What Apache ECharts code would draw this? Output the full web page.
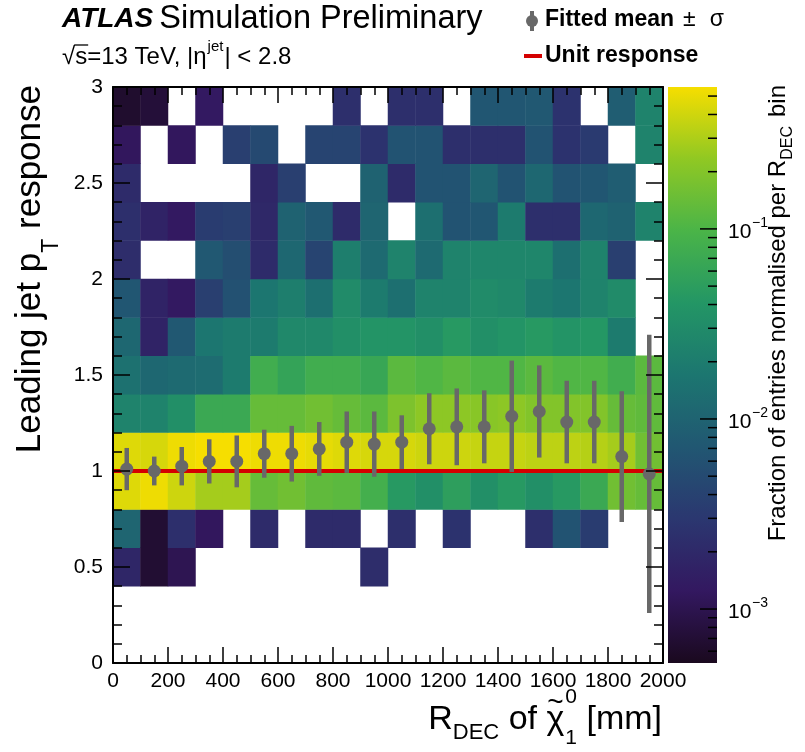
<!DOCTYPE html>
<html>
<head>
<meta charset="utf-8">
<script src="https://cdn.jsdelivr.net/npm/echarts@6.0.0/dist/echarts.min.js"></script>
<style>
html,body{margin:0;padding:0;background:#ffffff;}
#chart{width:805px;height:752px;}
</style>
</head>
<body>
<div id="chart"></div>
<script>
// ---------------- data ----------------
const xBins = ['0-100','100-200','200-300','300-400','400-500','500-600','600-700','700-800','800-900','900-1000',
  '1000-1100','1100-1200','1200-1300','1300-1400','1400-1500','1500-1600','1600-1700','1700-1800','1800-1900','1900-2000'];
const yBins = ['0.0-0.2','0.2-0.4','0.4-0.6','0.6-0.8','0.8-1.0','1.0-1.2','1.2-1.4','1.4-1.6',
  '1.6-1.8','1.8-2.0','2.0-2.2','2.2-2.4','2.4-2.6','2.6-2.8','2.8-3.0'];
const xCenters = [50,150,250,350,450,550,650,750,850,950,1050,1150,1250,1350,1450,1550,1650,1750,1850,1950];

// fraction of entries per R_DEC column, one array per response bin
const r00_02 = [null,null,null,null,null,null,null,null,null,null,null,null,null,null,null,null,null,null,null,null];
const r02_04 = [null,null,null,null,null,null,null,null,null,null,null,null,null,null,null,null,null,null,null,null];
const r04_06 = [0.00183,0.00069,0.00104,null,null,null,null,null,null,0.00225,null,null,null,null,null,null,null,null,null,null];
const r06_08 = [0.0105,0.00069,0.0024,0.0012,null,0.0021,null,0.0021,0.0021,null,0.0024,null,0.0026,null,null,0.0024,0.0064,0.0034,null,null];
const r08_10 = [0.454,0.52,0.394,0.278,0.278,0.138,0.159,0.129,0.12,0.085,0.045,0.034,0.052,0.034,0.045,0.034,0.045,0.069,0.159,0.138];
const r10_12 = [0.454,0.423,0.52,0.558,0.558,0.52,0.52,0.486,0.454,0.423,0.423,0.394,0.394,0.368,0.368,0.343,0.343,0.32,0.278,0.159];
const r12_14 = [0.024,0.024,0.034,0.069,0.069,0.138,0.138,0.159,0.138,0.12,0.183,0.225,0.225,0.21,0.225,0.196,0.196,0.196,0.138,0.129];
const r14_16 = [0.0148,0.0112,0.012,0.0129,0.0196,0.079,0.06,0.079,0.079,0.065,0.12,0.105,0.12,0.105,0.105,0.12,0.105,0.105,0.079,0.12];
const r16_18 = [0.0112,0.0017,0.0074,0.017,0.0196,0.0196,0.028,0.028,0.034,0.039,0.039,0.034,0.045,0.034,0.039,0.045,0.039,0.042,0.0196,null];
const r18_20 = [0.0069,0.0017,0.00129,0.0037,0.006,0.017,0.021,0.0138,0.03,0.0196,0.0138,0.024,0.024,0.03,0.028,0.0196,0.017,0.024,0.03,null];
const r20_22 = [0.00225,null,null,0.0074,0.0056,0.0021,0.0112,0.0042,0.021,0.012,0.024,0.012,0.024,0.026,0.026,0.026,0.0138,0.024,0.0037,null];
const r22_24 = [0.0024,0.0017,0.00129,0.0034,0.0037,0.00196,0.0097,0.0074,0.0021,0.0105,null,0.0138,0.0064,0.0069,0.0196,0.0024,0.0024,0.0112,0.0097,0.024];
const r24_26 = [0.0021,null,null,null,null,0.00183,0.0037,null,null,0.0097,0.0021,0.0064,0.0064,0.0105,0.0064,0.0112,0.0064,0.0069,0.0085,null];
const r26_28 = [0.0012,null,0.0012,null,0.0037,0.0049,null,0.0042,0.0042,0.0026,0.0064,0.0064,0.0024,0.0024,0.0024,0.0064,0.0026,0.0032,null,0.024];
const r28_30 = [0.00064,0.00074,null,0.00129,null,null,null,null,0.0024,null,0.0024,0.0024,null,0.0069,0.0069,0.0074,0.0026,null,0.0085,0.024];
const fractionRows = [r00_02,r02_04,r04_06,r06_08,r08_10,r10_12,r12_14,r14_16,r16_18,r18_20,r20_22,r22_24,r24_26,r26_28,r28_30];

// fitted mean and sigma per R_DEC bin
const fittedMean  = [1.01,1.0,1.025,1.05,1.05,1.09,1.09,1.115,1.15,1.14,1.15,1.22,1.23,1.23,1.285,1.31,1.255,1.255,1.075,0.985];
const fittedSigma = [0.11,0.075,0.10,0.115,0.135,0.125,0.145,0.14,0.16,0.17,0.14,0.185,0.20,0.19,0.29,0.24,0.215,0.215,0.34,0.725];

// unit response line
const unitX = [0, 2000];
const unitY = 1;

// colour scale (log)
const cbMin = 5.2e-4, cbMax = 0.558;
const cbMajorTicks = [1e-3, 1e-2, 1e-1];
const cbMajorExp = ['\u22123', '\u22122', '\u22121'];
const cbMinorTicks = [6e-4,7e-4,8e-4,9e-4,2e-3,3e-3,4e-3,5e-3,6e-3,7e-3,8e-3,9e-3,
  2e-2,3e-2,4e-2,5e-2,6e-2,7e-2,8e-2,9e-2,2e-1,3e-1,4e-1,5e-1];

// ---------------- style ----------------
const viridis = ['#1a091e','#331860','#2b3770','#215772','#1c7670','#239665','#4ab448','#90c823','#f6de00'];
const FONT = '"Liberation Sans", Arial, Helvetica, sans-serif';
const GREY = '#686868';
const RED = '#d40000';

const heatData = [];
fractionRows.forEach((row, j) => row.forEach((v, i) => { if (v != null) heatData.push([i, j, Math.log10(v)]); }));
const errData = xCenters.map((x, i) => [x, fittedMean[i], fittedSigma[i]]);
const cbTickData = cbMajorTicks.map((v, k) => [0, v, 1, k]).concat(cbMinorTicks.map(v => [0, v, 0, -1]));

// text layout helper
const mctx = document.createElement('canvas').getContext('2d');
function fontStr(s) { return (s.italic ? 'italic ' : '') + (s.bold ? 'bold ' : '') + s.size + 'px ' + FONT; }
function run(segs) {
  let x = 0; const ch = []; let prev = null;
  segs.forEach(s => {
    const f = fontStr(s); mctx.font = f; const w = mctx.measureText(s.t).width;
    let px = x + (s.dx || 0);
    if (s.over && prev) px = prev.x + (prev.w - w) / 2 + (s.dx || 0);
    ch.push({type: 'text', x: px, y: s.dy || 0, style: {text: s.t, font: f, fill: s.color || '#000',
      align: 'left', verticalAlign: 'middle', textAlign: 'left', textVerticalAlign: 'middle'}});
    if (s.overline) {
      const oy = (s.dy || 0) - 0.5 * s.size;
      ch.push({type: 'line', shape: {x1: px - 1, y1: oy, x2: px + w + 1, y2: oy}, style: {stroke: '#000', lineWidth: 1.3}});
    }
    if (!s.stay && !s.over) { prev = {x: px, w: w}; x = px + w; }
  });
  return {children: ch, width: x};
}

const gfx = [];
// header
const h1 = run([{t: 'ATLAS', size: 28, bold: true, italic: true}, {t: 'Simulation Preliminary', size: 32.5, dx: 6}]);
gfx.push({type: 'group', x: 62, y: 19, children: h1.children});
const h2 = run([{t: '\u221A', size: 24}, {t: 's', size: 24, overline: true}, {t: '=13 TeV, |\u03B7', size: 24},
  {t: 'jet', size: 15, dy: -10, dx: 1}, {t: '| < 2.8', size: 24, dx: 1}]);
gfx.push({type: 'group', x: 62, y: 57, children: h2.children});
// legend
gfx.push({type: 'line', shape: {x1: 532, y1: 11, x2: 532, y2: 31}, style: {stroke: GREY, lineWidth: 4}});
gfx.push({type: 'circle', shape: {cx: 532, cy: 21, r: 6}, style: {fill: GREY}});
const l1 = run([{t: 'Fitted mean', size: 23, bold: true}, {t: '\u00B1', size: 23, dx: 9}, {t: '\u03C3', size: 23, dx: 14}]);
gfx.push({type: 'group', x: 545, y: 20, children: l1.children});
gfx.push({type: 'rect', shape: {x: 524, y: 54, width: 18, height: 4}, style: {fill: RED}});
const l2 = run([{t: 'Unit response', size: 23, bold: true}]);
gfx.push({type: 'group', x: 545, y: 56, children: l2.children});
// y title
const yt = run([{t: 'Leading jet p', size: 35}, {t: 'T', size: 23, dy: 22}, {t: ' response', size: 35}]);
gfx.push({type: 'group', x: 30, y: 85 + yt.width, rotation: Math.PI / 2, children: yt.children});
// x title
const xt = run([{t: 'R', size: 34}, {t: 'DEC', size: 22, dy: 13}, {t: ' of ', size: 34}, {t: '\u03C7', size: 34},
  {t: '~', size: 28, dy: -17, over: true}, {t: '0', size: 21, dy: -23, stay: true, dx: 1}, {t: '1', size: 21, dy: 18, dx: 1}, {t: ' [mm]', size: 34}]);
gfx.push({type: 'group', x: 662 - xt.width, y: 720, children: xt.children});
// colour bar title
const ct = run([{t: 'Fraction of entries normalised per R', size: 24}, {t: 'DEC', size: 16, dy: 10}, {t: 'bin', size: 24, dx: 9}]);
gfx.push({type: 'group', x: 778, y: 85 + ct.width, rotation: Math.PI / 2, children: ct.children});

const tickStyle = {color: '#000', width: 1.5};
const labelStyle = {color: '#000', fontSize: 21, fontFamily: FONT};

const chart = echarts.init(document.getElementById('chart'), null, {renderer: 'canvas'});
chart.setOption({
  animation: false,
  backgroundColor: '#ffffff',
  grid: [
    {left: 113, top: 87, width: 550, height: 576, containLabel: false, outerBoundsMode: 'none'},
    {left: 668, top: 87, width: 49, height: 576, containLabel: false, outerBoundsMode: 'none'}
  ],
  visualMap: {show: false, type: 'continuous', min: Math.log10(cbMin), max: Math.log10(cbMax), dimension: 2,
    seriesIndex: 0, inRange: {color: viridis}},
  xAxis: [
    {type: 'value', gridIndex: 0, min: 0, max: 2000, interval: 200, position: 'bottom', z: 6,
      axisLine: {show: true, onZero: false, lineStyle: {color: '#000', width: 2}},
      axisTick: {show: true, inside: true, length: 16, lineStyle: tickStyle},
      minorTick: {show: true, splitNumber: 4, length: 8, lineStyle: tickStyle},
      axisLabel: Object.assign({margin: 8, hideOverlap: false, showMinLabel: true, showMaxLabel: true,
        formatter: v => String(v)}, labelStyle),
      splitLine: {show: false}, minorSplitLine: {show: false}},
    {type: 'value', gridIndex: 0, min: 0, max: 2000, interval: 200, position: 'top', z: 6,
      axisLine: {show: true, onZero: false, lineStyle: {color: '#000', width: 2}},
      axisTick: {show: true, inside: true, length: 16, lineStyle: tickStyle},
      minorTick: {show: true, splitNumber: 4, length: 8, lineStyle: tickStyle},
      axisLabel: {show: false}, splitLine: {show: false}},
    {type: 'category', gridIndex: 0, data: xBins, show: false},
    {type: 'value', gridIndex: 1, min: 0, max: 1, show: false}
  ],
  yAxis: [
    {type: 'value', gridIndex: 0, min: 0, max: 3, interval: 0.5, position: 'left', z: 6,
      axisLine: {show: true, onZero: false, lineStyle: {color: '#000', width: 2}},
      axisTick: {show: true, inside: true, length: 17, lineStyle: tickStyle},
      minorTick: {show: true, splitNumber: 5, length: 9, lineStyle: tickStyle},
      axisLabel: Object.assign({margin: 10, showMinLabel: true, showMaxLabel: true, formatter: v => String(v)}, labelStyle),
      splitLine: {show: false}},
    {type: 'value', gridIndex: 0, min: 0, max: 3, interval: 0.5, position: 'right', z: 6,
      axisLine: {show: true, onZero: false, lineStyle: {color: '#000', width: 2}},
      axisTick: {show: true, inside: true, length: 17, lineStyle: tickStyle},
      minorTick: {show: true, splitNumber: 5, length: 9, lineStyle: tickStyle},
      axisLabel: {show: false}, splitLine: {show: false}},
    {type: 'category', gridIndex: 0, data: yBins, show: false},
    {type: 'log', gridIndex: 1, min: cbMin, max: cbMax, logBase: 10, show: false}
  ],
  series: [
    {type: 'heatmap', xAxisIndex: 2, yAxisIndex: 2, data: heatData, z: 2, silent: true,
      itemStyle: {borderWidth: 0}, emphasis: {disabled: true}, progressive: 0},
    {type: 'line', xAxisIndex: 0, yAxisIndex: 0, z: 4, silent: true, symbol: 'none',
      data: unitX.map(x => [x, unitY]), lineStyle: {color: RED, width: 4}},
    {type: 'custom', xAxisIndex: 0, yAxisIndex: 0, z: 5, silent: true, clip: false,
      data: errData, encode: {x: 0, y: 1},
      renderItem: function (params, api) {
        const x = api.value(0), m = api.value(1), s = api.value(2);
        const c = api.coord([x, m]), t = api.coord([x, m + s]), b = api.coord([x, m - s]);
        return {type: 'group', children: [
          {type: 'line', shape: {x1: c[0], y1: t[1], x2: c[0], y2: b[1]}, style: {stroke: GREY, lineWidth: 4.5}},
          {type: 'circle', shape: {cx: c[0], cy: c[1], r: 6.5}, style: {fill: GREY}}
        ]};
      }},
    {type: 'custom', xAxisIndex: 3, yAxisIndex: 3, z: 2, silent: true, clip: false,
      data: [[0, cbMin]], encode: {x: 0, y: 1},
      renderItem: function (params, api) {
        const cs = params.coordSys;
        const stops = viridis.map((c, i) => ({offset: i / (viridis.length - 1), color: c}));
        return {type: 'rect', shape: {x: cs.x, y: cs.y, width: cs.width, height: cs.height},
          style: {fill: new echarts.graphic.LinearGradient(0, 1, 0, 0, stops)}};
      }},
    {type: 'custom', xAxisIndex: 3, yAxisIndex: 3, z: 3, silent: true, clip: false,
      data: cbTickData, encode: {x: 0, y: 1},
      renderItem: function (params, api) {
        const cs = params.coordSys;
        const v = api.value(1), major = api.value(2), k = api.value(3);
        const y = api.coord([0, v])[1];
        const xr = cs.x + cs.width;
        const len = major ? 17 : 9;
        const ch = [{type: 'line', shape: {x1: xr - len, y1: y, x2: xr, y2: y}, style: {stroke: '#000', lineWidth: 1.5}}];
        if (major) {
          ch.push({type: 'text', x: xr + 11, y: y + 3, style: {text: '10', font: '21px ' + FONT, fill: '#000',
            align: 'left', verticalAlign: 'middle', textAlign: 'left', textVerticalAlign: 'middle'}});
          ch.push({type: 'text', x: xr + 35, y: y - 6, style: {text: cbMajorExp[k], font: '14px ' + FONT, fill: '#000',
            align: 'left', verticalAlign: 'middle', textAlign: 'left', textVerticalAlign: 'middle'}});
        }
        return {type: 'group', children: ch};
      }}
  ],
  graphic: gfx
});
</script>
</body>
</html>
